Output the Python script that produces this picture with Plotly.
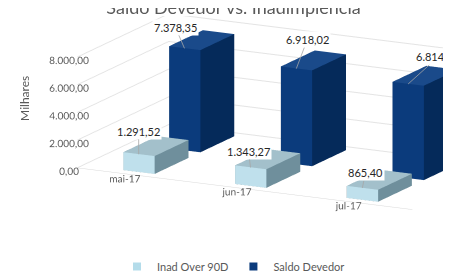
import plotly.graph_objects as go

categories = ["mai-17", "jun-17", "jul-17"]
series_names = ["Inad Over 90D", "Saldo Devedor"]
inad = [1291.52, 1343.27, 865.40]
saldo = [7378.35, 6918.02, 6814.34]
z_ticks = [0, 2000, 4000, 6000, 8000]

def br(v):
    s = f"{v:,.2f}"
    return s.replace(",", "X").replace(".", ",").replace("X", ".")

# colours: front, side, top
styles = [
    dict(front="#BFE0EC", side="#6F8F9C", top="#A3C0CB", legend="#B4DCEA"),
    dict(front="#0B3B7C", side="#052A5A", top="#1A4A8A", legend="#0B3B7C"),
]

W = 0.28   # bar width in category units
D = 0.74   # bar depth in series units

# label offsets (pixels) for the data labels
inad_off = [(0, -23), (-2, -16), (3, -15)]
saldo_off = [(-9, -21), (11, -29), (30, -27)]

fig = go.Figure()

for j, (name, vals) in enumerate(zip(series_names, [inad, saldo])):
    st = styles[j]
    X, Y, Z, I, J, K, FC = [], [], [], [], [], [], []
    for i, v in enumerate(vals):
        x0, x1 = i - W / 2, i + W / 2
        y0, y1 = j - D / 2, j + D / 2
        b = len(X)
        for (xx, yy, zz) in [(x0, y0, 0), (x1, y0, 0), (x1, y1, 0), (x0, y1, 0),
                             (x0, y0, v), (x1, y0, v), (x1, y1, v), (x0, y1, v)]:
            X.append(xx); Y.append(yy); Z.append(zz)
        faces = [
            ((0, 1, 5), st["front"]), ((0, 5, 4), st["front"]),
            ((1, 2, 6), st["side"]), ((1, 6, 5), st["side"]),
            ((4, 5, 6), st["top"]), ((4, 6, 7), st["top"]),
            ((3, 2, 6), st["side"]), ((3, 6, 7), st["side"]),
            ((0, 3, 7), st["side"]), ((0, 7, 4), st["side"]),
            ((0, 1, 2), st["side"]), ((0, 2, 3), st["side"]),
        ]
        for (a, c, d), col in faces:
            I.append(b + a); J.append(b + c); K.append(b + d); FC.append(col)
    fig.add_trace(go.Mesh3d(x=X, y=Y, z=Z, i=I, j=J, k=K, facecolor=FC,
                            flatshading=True, showlegend=False, hoverinfo="skip",
                            lighting=dict(ambient=1, diffuse=0, specular=0, fresnel=0, roughness=1)))
    fig.add_trace(go.Scatter3d(x=[None], y=[None], z=[None], mode="markers", name=name,
                               marker=dict(symbol="square", size=8, color=st["legend"])))

lab_font = dict(size=11, color="#262626", family="Lato")
annotations = []
for i, v in enumerate(inad):
    annotations.append(dict(x=i, y=0 - D / 2, z=v, text=br(v), showarrow=True, arrowhead=0,
                            arrowcolor="#a6a6a6", arrowwidth=0.8,
                            ax=inad_off[i][0], ay=inad_off[i][1],
                            bgcolor="white", font=lab_font))
for i, v in enumerate(saldo):
    annotations.append(dict(x=i, y=1 - D / 2, z=v, text=br(v), showarrow=True, arrowhead=0,
                            arrowcolor="#a6a6a6", arrowwidth=0.8,
                            ax=saldo_off[i][0], ay=saldo_off[i][1],
                            bgcolor="white", font=lab_font))

axis_common = dict(showbackground=False, showspikes=False, color="#595959", tickangle=0,
                   tickfont=dict(size=11, family="Lato", color="#595959"))

fig.update_layout(
    width=451, height=273,
    margin=dict(l=0, r=0, t=0, b=0),
    paper_bgcolor="white",
    separators=",.",
    font=dict(family="Lato", color="#595959"),
    title=dict(text="Saldo Devedor vs. Inadimplência", x=0.5, xanchor="center",
               y=1.0, yref="container", yanchor="middle",
               font=dict(size=18, color="#595959", family="Lato")),
    legend=dict(orientation="h", x=0.5, xanchor="center", y=0.0, yanchor="bottom",
                itemwidth=30, font=dict(size=11, color="#595959", family="Lato")),
    annotations=[dict(text="Milhares", textangle=-90, xref="paper", yref="paper",
                      x=0.035, xanchor="center", y=0.67, yanchor="middle", showarrow=False,
                      font=dict(size=12, color="#595959", family="Lato"))],
    scene=dict(
        domain=dict(x=[0.05, 1.0], y=[0.08, 0.97]),
        xaxis=dict(axis_common, title=dict(text=""), tickvals=[0, 1, 2], ticktext=categories,
                   range=[-0.5, 2.5], showgrid=False, zeroline=False, showline=True,
                   linecolor="#d9d9d9"),
        yaxis=dict(axis_common, title=dict(text=""), range=[-0.5, 1.5], showgrid=False,
                   showticklabels=False, zeroline=False, showline=False),
        zaxis=dict(axis_common, title=dict(text=""),
                   tickvals=z_ticks, tickformat=",.2f", range=[0, 8000],
                   showgrid=True, gridcolor="#e4e4e4", zeroline=False, showline=False),
        aspectmode="manual", aspectratio=dict(x=3.1, y=1.65, z=0.94),
        camera=dict(eye=dict(x=0.265, y=-1.338, z=0.109), center=dict(x=-0.335, y=-0.168, z=-0.22),
                    projection=dict(type="orthographic")),
        annotations=annotations,
    ),
)

fig.write_html("out.html")
